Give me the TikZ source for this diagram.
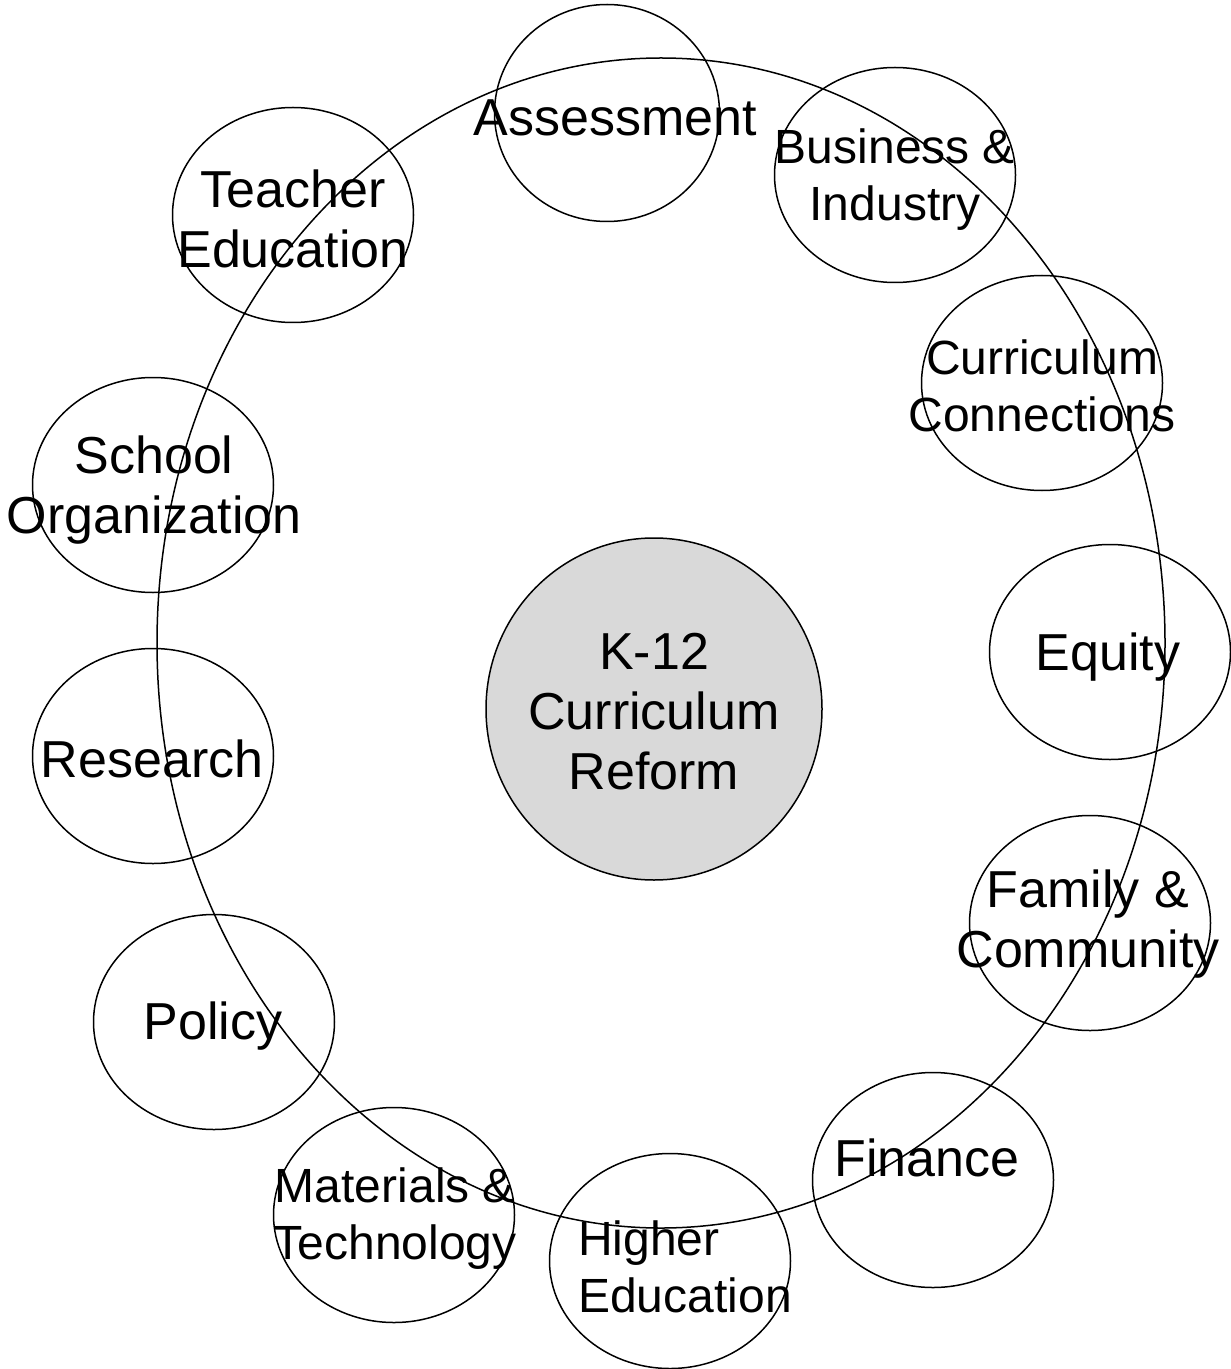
\documentclass[tikz,border=0pt]{standalone}
\usepackage{fontspec}
\setmainfont{Liberation Sans}
\usetikzlibrary{shapes.geometric,calc}
\definecolor{hubgray}{gray}{0.85}

\begin{document}
\begin{tikzpicture}[x=0.5pt,y=-0.5pt,line width=0.75pt,
      bubble/.style={ellipse,draw,minimum width=120.5pt,minimum height=107.5pt,inner sep=0pt},
      hub/.style={ellipse,draw,fill=hubgray,minimum width=168pt,minimum height=171pt,inner sep=0pt},
      ring/.style={ellipse,draw,minimum width=504pt,minimum height=585pt,inner sep=0pt},
      lbl/.style={font=\fontsize{26}{30}\selectfont,align=center,inner sep=0pt},
      slbl/.style={font=\fontsize{24}{28.5}\selectfont,align=center,inner sep=0pt}]

      \useasboundingbox (0,0) rectangle (1230,1369);

      \node[ring] (cycle) at (661,643) {};
      \node[hub] (reform) at (654,709) {};

      \node[bubble,minimum width=112.5pt,minimum height=108.5pt] (assess) at (607,113) {};
      \node[bubble] (business) at (895,175) {};
      \node[bubble] (teacher) at (293,215) {};
      \node[bubble] (connect) at (1042,383) {};
      \node[bubble] (school) at (153,485) {};
      \node[bubble] (equity) at (1110,652) {};
      \node[bubble] (research) at (153,756) {};
      \node[bubble] (family) at (1090,923) {};
      \node[bubble] (policy) at (214,1022) {};
      \node[bubble] (finance) at (933,1180) {};
      \node[bubble] (material) at (394,1215) {};
      \node[bubble] (higher) at (670,1261) {};

      \node[lbl] (reformT) at ($(reform)+(0,3)$) {K-12\\Curriculum\\Reform};
      \node[lbl] (assessT) at ($(assess)+(8,5)$) {Assessment};
      \node[slbl] (businessT) at ($(business)+(0,5)$) {Business \&\\Industry};
      \node[lbl] (teacherT) at ($(teacher)+(0,4)$) {Teacher\\Education};
      \node[slbl] (connectT) at ($(connect)+(0,3)$) {Curriculum\\Connections};
      \node[lbl] (schoolT) at ($(school)+(1,5)$) {School\\Organization};
      \node[lbl] (equityT) at ($(equity)+(-2,5)$) {Equity};
      \node[lbl] (researchT) at ($(research)+(-1,3)$) {Research};
      \node[lbl] (familyT) at ($(family)+(-2,1)$) {Family \&\\Community};
      \node[lbl] (policyT) at ($(policy)+(-1,4)$) {Policy};
      \node[lbl] (financeT) at ($(finance)+(-6,-22)$) {Finance};
      \node[slbl] (materialT) at ($(material)+(1,4)$) {Materials \&\\Technology};
      \node[slbl,align=left] (higherT) at ($(higher)+(15,6)$) {Higher\\Education};
\end{tikzpicture}
\end{document}
